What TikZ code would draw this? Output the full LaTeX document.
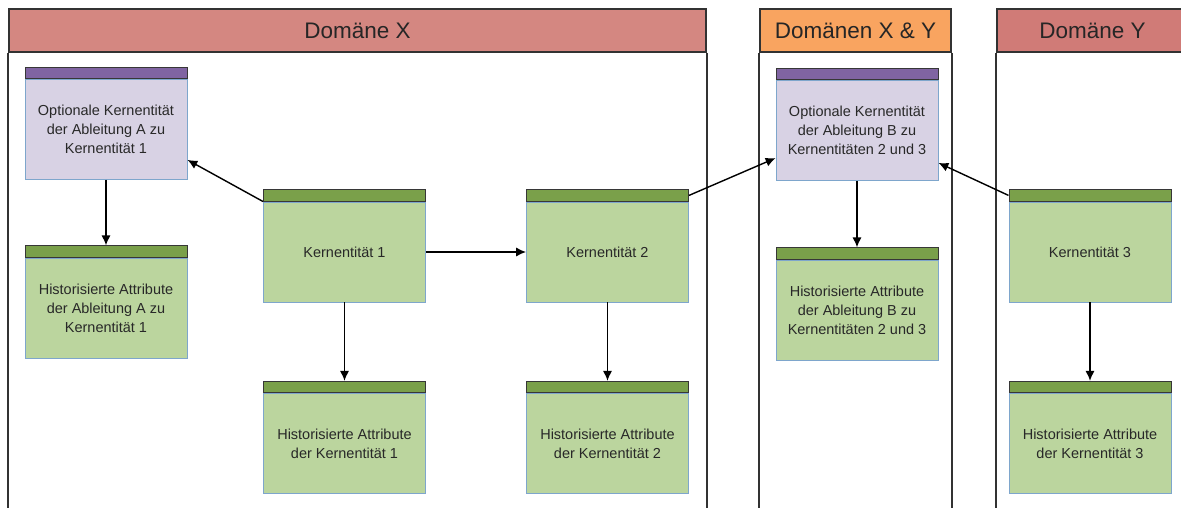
\documentclass[tikz,border=0pt]{standalone}
\usepackage{fontspec}
\setmainfont{Liberation Sans}
\usetikzlibrary{arrows,arrows.meta}
\usetikzlibrary{positioning}
\usepackage{xcolor}
\definecolor{hdrX}{RGB}{212,135,129}
\definecolor{hdrXY}{RGB}{249,164,96}
\definecolor{hdrY}{RGB}{208,123,119}
\definecolor{laneline}{RGB}{50,50,50}
\definecolor{greenbar}{RGB}{122,160,74}
\definecolor{greenbody}{RGB}{187,213,158}
\definecolor{lilabar}{RGB}{128,100,162}
\definecolor{lilabody}{RGB}{216,210,228}
\definecolor{bodyline}{RGB}{126,166,204}
\definecolor{barline}{RGB}{55,55,55}
\definecolor{txt}{RGB}{40,40,40}

\begin{document}
\begin{tikzpicture}[%
        every node/.style={rectangle, inner sep=0pt, text=txt,
          font=\fontsize{10.3}{13.5}\selectfont},
        ent/.style={draw=bodyline, fill=greenbody, line width=0.7pt,
          minimum width=4.05cm, minimum height=2.5cm, align=center},
        opt/.style={ent, fill=lilabody},
        bar/.style={draw=barline, fill=greenbar, line width=0.7pt,
          minimum width=4.05cm, minimum height=0.28cm},
        optbar/.style={bar, fill=lilabar},
        lanehead/.style={draw=laneline, line width=1.2pt, minimum height=1.075cm,
          text=black!85, font=\fontsize{16}{19}\selectfont},
        lane/.style={draw=laneline, line width=1.2pt},
        node distance=0pt, >={Latex[length=7pt,width=6.5pt]}, line width=1pt
      ]
      \useasboundingbox (0,0) rectangle (29.525,-12.7);
      \coordinate (bottom) at (0,-12.8);
      % lanes
      \node (domX) [lanehead, fill=hdrX, minimum width=17.425cm] at (8.9375,-0.7625) {Domäne X};
      \node (domXY) [lanehead, fill=hdrXY, minimum width=4.775cm] at (21.3875,-0.7625) {Domänen X \& Y};
      \node (domY) [lanehead, fill=hdrY, minimum width=4.775cm] at (27.3125,-0.7625) {Domäne Y};
      \draw [lane] (domX.south west) -- (domX.south west |- bottom)
        (domX.south east) -- (domX.south east |- bottom)
        (domXY.south west) -- (domXY.south west |- bottom)
        (domXY.south east) -- (domXY.south east |- bottom)
        (domY.south west) -- (domY.south west |- bottom);
      % entities
      \node (optA) [opt] at (2.65,-3.2375) {Optionale Kernentität\\der Ableitung A zu\\Kernentität 1};
      \node (histA) [ent] at (2.65,-7.7) {Historisierte Attribute\\der Ableitung A zu\\Kernentität 1};
      \node (k1) [ent] at (8.6125,-6.3) {Kernentität 1};
      \node (k2) [ent] at (15.1875,-6.3) {Kernentität 2};
      \node (histK1) [ent] at (8.6125,-11.0875) {Historisierte Attribute\\der Kernentität 1};
      \node (histK2) [ent] at (15.1875,-11.0875) {Historisierte Attribute\\der Kernentität 2};
      \node (optB) [opt] at (21.425,-3.2625) {Optionale Kernentität\\der Ableitung B zu\\Kernentitäten 2 und 3};
      \node (histB) [ent] at (21.425,-7.75) {Historisierte Attribute\\der Ableitung B zu\\Kernentitäten 2 und 3};
      \node (k3) [ent] at (27.25,-6.3) {Kernentität 3};
      \node (histK3) [ent] at (27.25,-11.0875) {Historisierte Attribute\\der Kernentität 3};
      % bars
      \node (optAbar) [optbar, above=of optA] {};
      \node (optBbar) [optbar, above=of optB] {};
      \node (histAbar) [bar, above=of histA] {};
      \node (histBbar) [bar, above=of histB] {};
      \node (k1bar) [bar, above=of k1] {};
      \node (k2bar) [bar, above=of k2] {};
      \node (k3bar) [bar, above=of k3] {};
      \node (histK1bar) [bar, above=of histK1] {};
      \node (histK2bar) [bar, above=of histK2] {};
      \node (histK3bar) [bar, above=of histK3] {};
      % relations
      \path [draw] (k1.north west) edge[->] ([yshift=-7.6mm]optA.east)
      (optA) edge[->] (histAbar)
      (k1) edge[->] (k2)
      (k1) edge[->] (histK1bar)
      (k2) edge[->] (histK2bar)
      (k2bar.east) edge[->] ([yshift=-6.9mm]optB.west)
      (k3bar.west) edge[->] ([yshift=-8.1mm]optB.east)
      (optB) edge[->] (histBbar)
      (k3) edge[->] (histK3bar);
     \end{tikzpicture}
\end{document}
